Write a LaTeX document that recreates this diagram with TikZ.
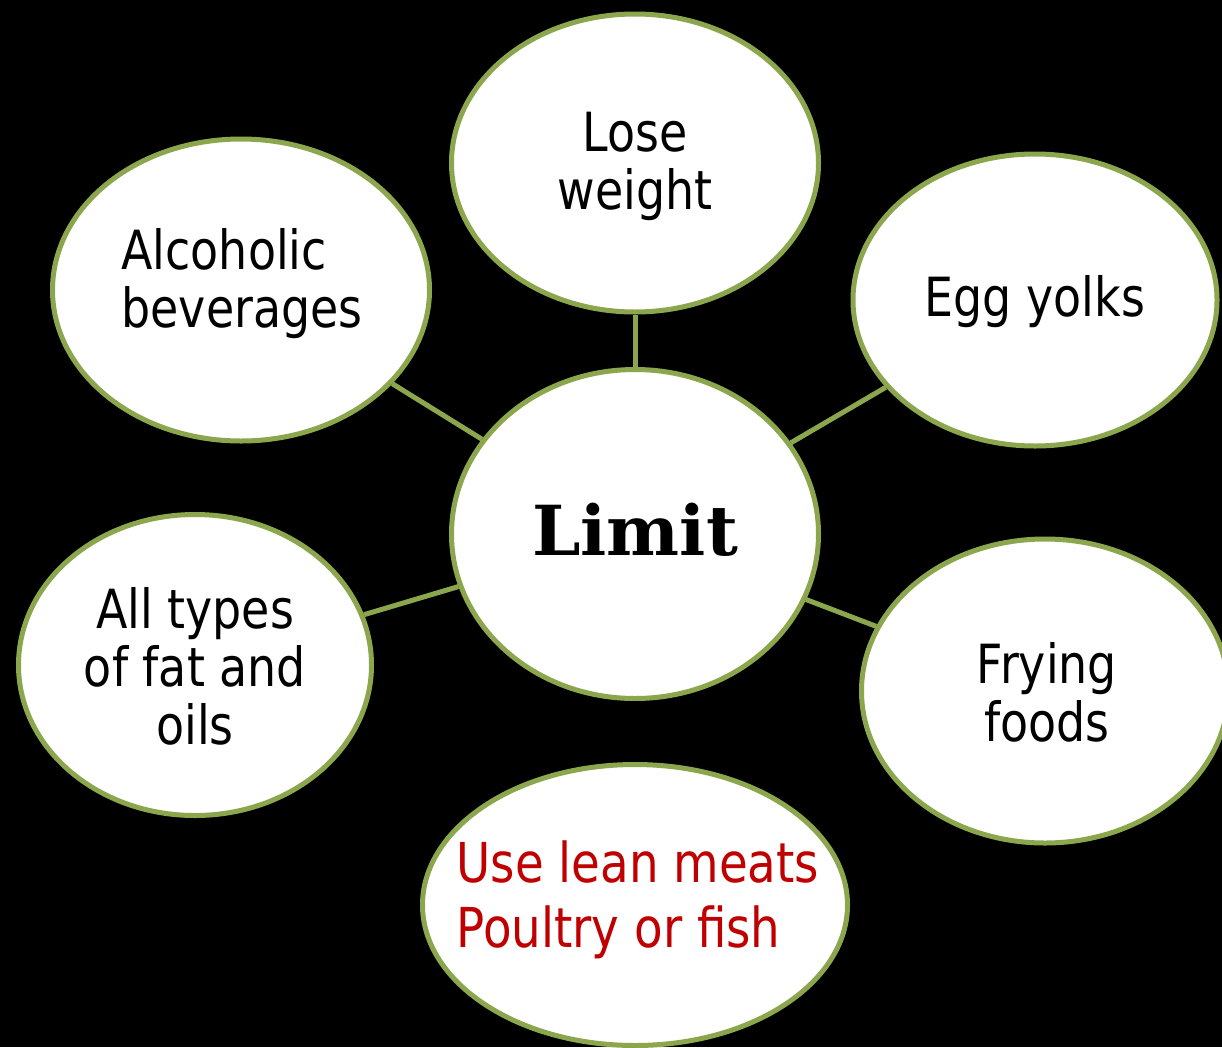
\documentclass[tikz,border=0pt]{standalone}
\usepackage{fontspec}
\setmainfont[FakeStretch=0.85]{DejaVu Sans}
\newfontfamily\limitfont{DejaVu Serif}
\usetikzlibrary{shapes.geometric}
\definecolor{bubblegreen}{HTML}{8CA64E}
\definecolor{leanred}{HTML}{C00000}
\begin{document}
\begin{tikzpicture}[x=1pt,y=-1pt,
  bubble/.style={ellipse, draw=bubblegreen, line width=5pt, fill=white, inner sep=0pt},
  link/.style={draw=bubblegreen, line width=5pt},
  txt/.style={font=\fontsize{54}{58}\selectfont, align=center, inner sep=0pt}]
%фон
\fill[black] (0,0) rectangle (1222,1047);
\useasboundingbox (0,0) rectangle (1222,1047);

%эллипсы
\node[bubble, minimum width=367pt, minimum height=329pt] (limit) at (635,534) {};
\node[bubble, minimum width=367pt, minimum height=298pt] (lose) at (635,163) {};
\node[bubble, minimum width=377pt, minimum height=302pt] (alco) at (241,290) {};
\node[bubble, minimum width=364pt, minimum height=292pt] (egg) at (1035,300) {};
\node[bubble, minimum width=353pt, minimum height=301pt] (fat) at (195,665) {};
\node[bubble, minimum width=367pt, minimum height=304pt] (fry) at (1045,691) {};
\node[bubble, minimum width=425pt, minimum height=281pt] (lean) at (635,905) {};

%линии
\draw[link] (limit) -- (lose);
\draw[link] (limit) -- (alco);
\draw[link] (limit) -- (egg);
\draw[link] (limit) -- (fat);
\draw[link] (limit) -- (fry);
\draw[black, line width=5pt] (limit) -- (lean);

%подписи
\node[font=\limitfont\bfseries\fontsize{69}{69}\selectfont, anchor=base, inner sep=0pt] (limittxt) at (635,555) {Limit};
\node[txt] (losetxt) at (635,166) {Lose\\weight};
\node[txt, align=left] (alcotxt) at (242,284) {Alcoholic\\beverages};
\node[txt] (eggtxt) at (1035,302) {Egg yolks};
\node[txt] (fattxt) at (195,666) {All types\\of fat and\\oils};
\node[txt] (frytxt) at (1047,692) {Frying\\foods};
\node[txt, font=\fontsize{55}{65}\selectfont, align=left, text=leanred] (leantxt) at (638,900) {Use lean meats\\Poultry or fish};
\end{tikzpicture}
\end{document}
